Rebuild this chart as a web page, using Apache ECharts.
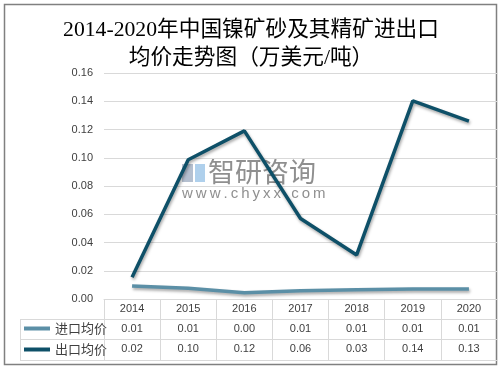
<!DOCTYPE html>
<html><head><meta charset="utf-8">
<script src="https://cdn.jsdelivr.net/npm/echarts@6/dist/echarts.min.js"></script>
<style>html,body{margin:0;padding:0;background:#fff}#c{width:502px;height:370px}</style>
</head><body><div id="c"></div>
<script>
const years = ['2014','2015','2016','2017','2018','2019','2020'];
const importPrice = [0.0092, 0.0076, 0.0045, 0.0059, 0.0066, 0.0071, 0.0071];
const exportPrice = [0.0154, 0.0986, 0.1190, 0.0570, 0.0312, 0.1402, 0.1260];
const yTicks = [0, 0.16, 0.02]; // min, max, interval
const seriesNames = ['进口均价', '出口均价'];
const titleText = '2014-2020年中国镍矿砂及其精矿进出口\n均价走势图（万美元/吨）';
const watermark = ['智研咨询', 'www.chyxx.com'];

const chart = echarts.init(document.getElementById('c'), null, {renderer: 'canvas'});
const lbl = {color: '#404040', fontSize: 11, fontFamily: 'Liberation Sans, Arial, sans-serif'};
const gridCol = '#d9d9d9';
const shadow = {shadowColor: 'rgba(0,0,0,0.35)', shadowBlur: 3, shadowOffsetY: 2, shadowOffsetX: 1};
const wmCol = 'rgba(105,105,105,0.75)';

chart.setOption({
  animation: false,
  backgroundColor: '#fff',
  title: {
    text: titleText, left: 'center', top: 16, padding: 0,
    textStyle: {fontSize: 21.7, fontWeight: 'normal', color: '#000', lineHeight: 28,
      fontFamily: 'Liberation Serif, Noto Sans CJK SC, serif'}
  },
  grid: {left: 104, right: 5, top: 73, bottom: 71},
  legend: [
    {data: [seriesNames[0]], left: 24, top: 322, padding: 0, icon: 'rect', itemWidth: 26, itemHeight: 4, itemGap: 0, itemTextGap: 2,
     textStyle: {fontSize: 13, color: '#404040', fontFamily: 'Noto Sans CJK SC'}, selectedMode: false},
    {data: [seriesNames[1]], left: 24, top: 343, padding: 0, icon: 'rect', itemWidth: 26, itemHeight: 4, itemGap: 0, itemTextGap: 2,
     textStyle: {fontSize: 13, color: '#404040', fontFamily: 'Noto Sans CJK SC'}, selectedMode: false}
  ],
  xAxis: [
    {type: 'category', data: years, position: 'bottom', boundaryGap: true,
     axisLine: {show: true, lineStyle: {color: gridCol}},
     axisTick: {show: true, length: 20, lineStyle: {color: gridCol}},
     axisLabel: Object.assign({margin: 4}, lbl)},
    {type: 'category', data: years, position: 'bottom', offset: 20, boundaryGap: true,
     axisLine: {show: false},
     axisTick: {show: true, length: 41, lineStyle: {color: gridCol}},
     axisLabel: Object.assign({margin: 4, formatter: (v, i) => importPrice[i].toFixed(2)}, lbl)},
    {type: 'category', data: years, position: 'bottom', offset: 40.5, boundaryGap: true,
     axisLine: {show: false}, axisTick: {show: false},
     axisLabel: Object.assign({margin: 4, formatter: (v, i) => exportPrice[i].toFixed(2)}, lbl)}
  ],
  yAxis: {
    type: 'value', min: yTicks[0], max: yTicks[1], interval: yTicks[2],
    axisLine: {show: false}, axisTick: {show: false},
    splitLine: {lineStyle: {color: gridCol}},
    axisLabel: Object.assign({margin: 11, formatter: v => v.toFixed(2)}, lbl)
  },
  graphic: [
    {type: 'rect', shape: {x: 4.5, y: 4.5, width: 492, height: 360}, style: {fill: 'none', stroke: '#808080', lineWidth: 1.5}, z: 0},
    {type: 'line', shape: {x1: 20, y1: 319.5, x2: 497, y2: 319.5}, style: {stroke: gridCol, lineWidth: 1}},
    {type: 'line', shape: {x1: 20, y1: 339.5, x2: 497, y2: 339.5}, style: {stroke: gridCol, lineWidth: 1}},
    {type: 'line', shape: {x1: 20, y1: 360.5, x2: 497, y2: 360.5}, style: {stroke: gridCol, lineWidth: 1}},
    {type: 'line', shape: {x1: 20.5, y1: 319, x2: 20.5, y2: 361}, style: {stroke: gridCol, lineWidth: 1}},
    {type: 'rect', shape: {x: 182, y: 164, width: 11, height: 18}, style: {fill: 'rgba(120,140,170,0.55)'}, z: -1},
    {type: 'rect', shape: {x: 195, y: 164, width: 10, height: 18}, style: {fill: 'rgba(110,170,220,0.55)'}, z: -1},
    {type: 'text', x: 208, y: 158, z: -1, style: {text: watermark[0], fontSize: 27, fill: wmCol, fontFamily: 'Noto Sans CJK SC'}},
    {type: 'text', x: 182, y: 186, z: -1, style: {text: watermark[1].split('').join('\u2009'), fontSize: 15, fill: wmCol, fontFamily: 'Liberation Sans'}}
  ],
  series: [
    {name: seriesNames[0], type: 'line', data: importPrice, symbol: 'none', z: 3,
     itemStyle: {color: '#5b8fa6'}, lineStyle: Object.assign({color: '#5b8fa6', width: 3.5}, shadow)},
    {name: seriesNames[1], type: 'line', data: exportPrice, symbol: 'none', z: 4,
     itemStyle: {color: '#0e5068'}, lineStyle: Object.assign({color: '#0e5068', width: 3.5}, shadow)}
  ]
});
</script></body></html>
